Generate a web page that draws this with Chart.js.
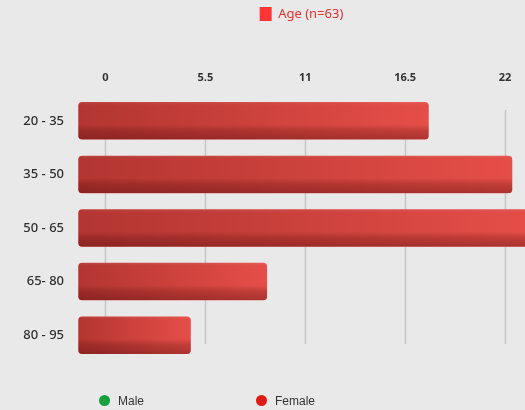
<!DOCTYPE html>
<html>
<head>
<meta charset="utf-8">
<script src="https://cdn.jsdelivr.net/npm/chart.js@4/dist/chart.umd.min.js"></script>
<style>
    body { margin: 0; background: #e9e9e9; }
    #wrap { position: relative; width: 525px; height: 410px; }
    .key { position: absolute; top: 394px; font: 12px "Liberation Sans", Arial, sans-serif; color: #333; line-height: 15px; }
    .dot { display: inline-block; width: 11px; height: 11px; border-radius: 50%; vertical-align: -1px; margin-right: 8px; }
</style>
</head>
<body>
<div id="wrap">
    <canvas id="ageChart" width="525" height="410"></canvas>
    <div class="key" style="left:99px"><span class="dot" style="background:#14a03c"></span>Male</div>
    <div class="key" style="left:256px"><span class="dot" style="background:#dd1a14"></span>Female</div>
</div>
<script>
// age groups and counts
const ageGroups = ["20 - 35", "35 - 50", "50 - 65", "65- 80", "80 - 95"];
const ageCounts = [17.8, 22.4, 23.6, 8.9, 4.7];
const xTicks = [0, 5.5, 11, 16.5, 22];
const seriesLabel = "Age (n=63)";

// grid lines drawn a bit shorter than the plot area, like the original
const shortGrid = {
    id: "shortGrid",
    beforeDatasetsDraw(chart) {
        const { ctx, chartArea, scales } = chart;
        ctx.save();
        ctx.strokeStyle = "#c6c6c6";
        ctx.lineWidth = 1.5;
        xTicks.forEach(v => {
            const px = Math.round(scales.x.getPixelForValue(v)) + 0.5;
            ctx.beginPath();
            ctx.moveTo(px, chartArea.top + 16);
            ctx.lineTo(px, chartArea.bottom - 18);
            ctx.stroke();
        });
        ctx.restore();
    }
};

// shading on each bar so it looks a bit 3D
const barShade = {
    id: "barShade",
    afterDatasetsDraw(chart) {
        const { ctx, chartArea } = chart;
        const bars = chart.getDatasetMeta(0).data;
        ctx.save();
        ctx.beginPath();
        ctx.rect(chartArea.left, chartArea.top, chartArea.right - chartArea.left, chartArea.bottom - chartArea.top);
        ctx.clip();
        bars.forEach(bar => {
            const left = bar.base, right = bar.x;
            const top = bar.y - bar.height / 2, h = bar.height;
            ctx.beginPath();
            ctx.roundRect(left, top, right - left, h, 4);
            ctx.save();
            ctx.clip();
            let g = ctx.createLinearGradient(left, 0, right, 0);
            g.addColorStop(0, "rgba(70,0,0,0.32)");
            g.addColorStop(1, "rgba(70,0,0,0)");
            ctx.fillStyle = g;
            ctx.fillRect(left, top, right - left, h);
            g = ctx.createLinearGradient(0, top, 0, top + h);
            g.addColorStop(0, "rgba(255,255,255,0.08)");
            g.addColorStop(0.08, "rgba(255,255,255,0)");
            g.addColorStop(0.6, "rgba(60,0,0,0)");
            g.addColorStop(0.75, "rgba(60,0,0,0.2)");
            g.addColorStop(1, "rgba(60,0,0,0.34)");
            ctx.fillStyle = g;
            ctx.fillRect(left, top, right - left, h);
            ctx.restore();
        });
        ctx.restore();
    }
};

const ctx = document.getElementById("ageChart").getContext("2d");
new Chart(ctx, {
    type: "bar",
    data: {
        labels: ageGroups,
        datasets: [{
            label: seriesLabel,
            data: ageCounts,
            base: -1.5,
            backgroundColor: "#e64e48",
            borderRadius: 4,
            borderSkipped: false,
            barPercentage: 0.7,
            categoryPercentage: 1
        }]
    },
    options: {
        indexAxis: "y",
        responsive: false,
        animation: false,
        layout: { padding: { bottom: 48 } },
        scales: {
            x: {
                position: "top",
                min: -1.514,
                max: 23.1,
                afterBuildTicks: s => { s.ticks = xTicks.map(v => ({ value: v })); },
                afterFit: s => { s.height = 63; },
                grid: { display: false, drawTicks: false },
                border: { display: false },
                ticks: {
                    color: "#333",
                    padding: 10,
                    font: { family: "Noto Sans", size: 11, weight: "bold" }
                }
            },
            y: {
                afterFit: s => { s.width = 78; },
                grid: { display: false, drawTicks: false },
                border: { display: false },
                ticks: {
                    color: "#2e2e2e",
                    padding: 14,
                    font: { family: "Noto Sans", size: 13, weight: 500 }
                }
            }
        },
        plugins: {
            legend: {
                position: "top",
                fullSize: false,
                labels: {
                    boxWidth: 12,
                    boxHeight: 14,
                    padding: 7,
                    color: "#e63030",
                    font: { family: "Noto Sans", size: 13 },
                    generateLabels: chart => [{
                        text: chart.data.datasets[0].label,
                        fillStyle: "#ff3434",
                        strokeStyle: "#ff3434",
                        lineWidth: 0,
                        fontColor: "#e63030",
                        datasetIndex: 0
                    }]
                }
            },
            tooltip: { enabled: false }
        }
    },
    plugins: [shortGrid, barShade]
});
</script>
</body>
</html>
